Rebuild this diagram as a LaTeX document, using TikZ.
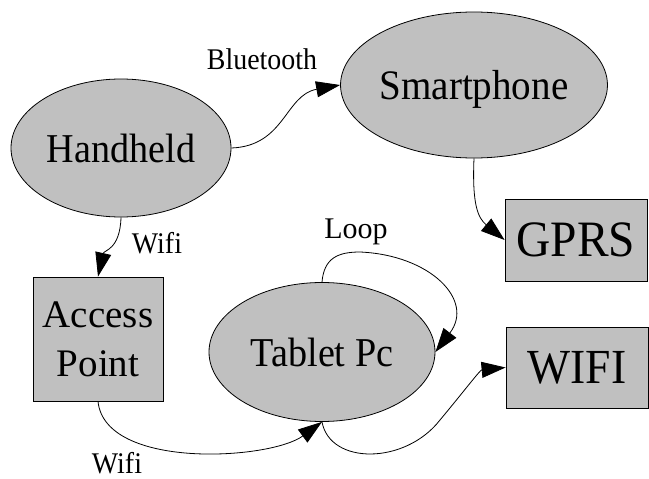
\documentclass[tikz,border=0pt]{standalone}
\usepackage{fontspec}
\usepackage{graphicx}
\newfontfamily\graphfont{Liberation Serif}
\usetikzlibrary{arrows.meta, shapes.geometric}
\definecolor{nodegray}{HTML}{C0C0C0}
\newcommand{\sq}[1]{\scalebox{0.93}[1]{#1}}

\begin{document}
\begin{tikzpicture}[x=1pt, y=-1pt,
  elli/.style={ellipse, draw=black, fill=nodegray, line width=0.8pt, inner sep=0pt, text depth=0pt, font=\graphfont\fontsize{41}{49}\selectfont},
  boxn/.style={rectangle, draw=black, fill=nodegray, line width=0.8pt, inner sep=0pt, minimum width=142pt, font=\graphfont\fontsize{51}{60}\selectfont},
  lbl/.style={anchor=base, inner sep=0pt, font=\graphfont\fontsize{30}{36}\selectfont},
  arrow/.style={-{Triangle[length=24pt, width=16pt]}, line width=0.8pt}
]
  \useasboundingbox (0,0) rectangle (649,479);

  % Nodes
  \node[elli, minimum width=220pt, minimum height=138pt] (hand) at (121,148) {\sq{Handheld}};
  \node[elli, minimum width=223pt, minimum height=146pt, font=\graphfont\fontsize{42}{50}\selectfont] (smart) at (474,85) {\sq{Smartphone}};
  \node[elli, minimum width=226pt, minimum height=139pt] (tablet) at (322,352) {\sq{Tablet Pc}};
  \node[boxn, minimum width=130pt, minimum height=124pt, align=center, font=\graphfont\fontsize{39}{49}\selectfont] (ap) at (98,339) {Access\\Point};
  \node[boxn, minimum height=82pt] (gprs) at (576,240) {\sq{GPRS}};
  \node[boxn, minimum height=81pt, font=\graphfont\fontsize{49}{58}\selectfont] (wifi) at (577,367.5) {\sq{WIFI}};

  % Labels
  \node[lbl] (lblue) at (262,69) {\sq{Bluetooth}};
  \node[lbl] (lwifia) at (157,253) {\sq{Wifi}};
  \node[lbl] (lloop) at (356,238) {Loop};
  \node[lbl] (lwifib) at (117,473) {\sq{Wifi}};

  % Edges
  \draw[arrow] (hand.east) .. controls (285,146) and (285,95) .. (smart.west);
  \draw[arrow] (smart.south) .. controls (472,205) and (478,218) .. (gprs.west);
  \draw[arrow] (hand.south) .. controls (120,250) and (104,250) .. (ap.north);
  \draw[arrow] (ap.south) .. controls (105,470) and (270,460) .. (tablet.south);
  \draw[arrow] (tablet.north) .. controls (324,258) and (338,252) .. (360,252)
                .. controls (430,255) and (475,300) .. (tablet.east);
  \draw[arrow] (tablet.south) .. controls (330,465) and (405,465) .. (440,420)
                .. controls (465,390) and (480,370) .. (wifi.west);
\end{tikzpicture}
\end{document}
